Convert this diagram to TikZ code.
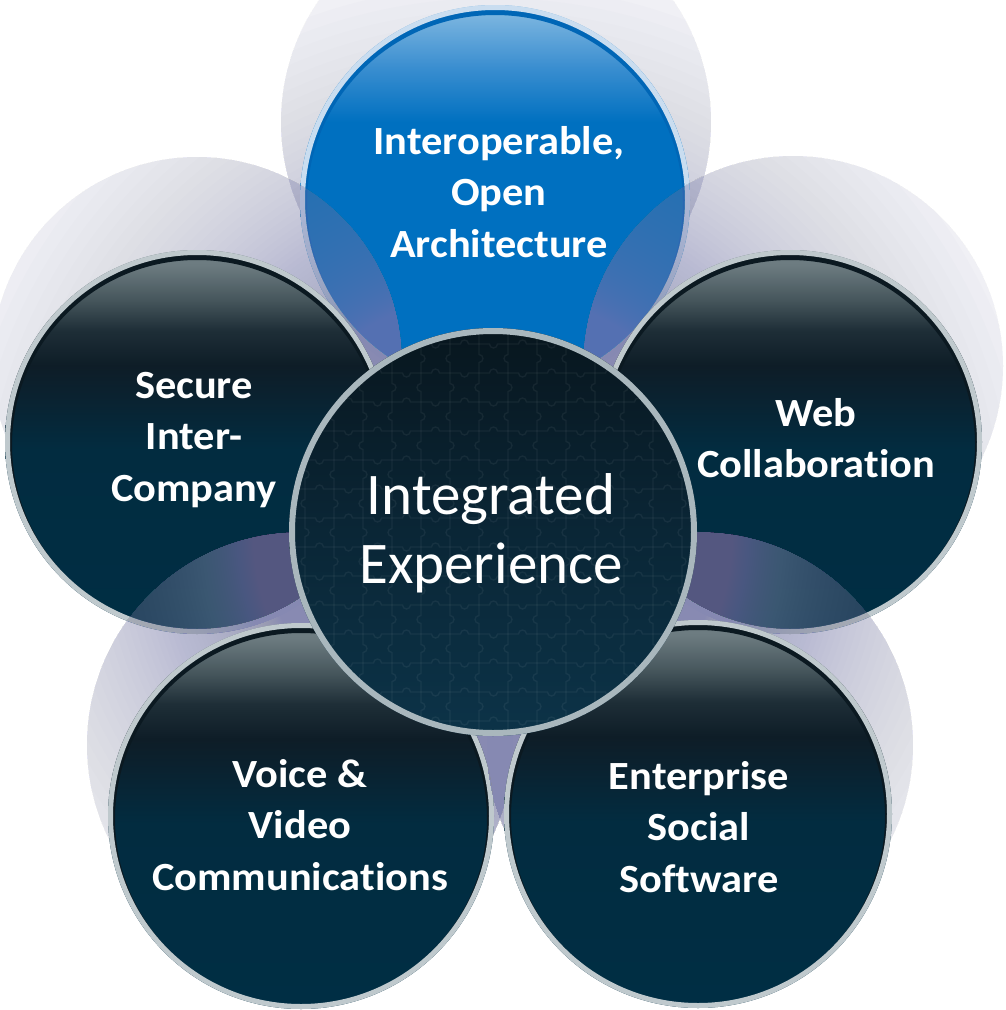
\documentclass[tikz,border=0pt]{standalone}
\usepackage{fontspec}
\setmainfont{Carlito}[Ligatures=NoCommon]
\newfontfamily\labfont{Carlito}[FakeStretch=1.06,Ligatures=NoCommon]
\definecolor{dkA}{HTML}{002E44}
\definecolor{dkB}{HTML}{022C40}
\definecolor{dkC}{HTML}{0A2230}
\definecolor{dkD}{HTML}{0E1D27}
\definecolor{dkE}{HTML}{1E2E37}
\definecolor{dkF}{HTML}{46565C}
\definecolor{dkG}{HTML}{6C7B80}
\definecolor{dkH}{HTML}{707F84}
\definecolor{blA}{HTML}{0070C0}
\definecolor{blB}{HTML}{3A8ED0}
\definecolor{blC}{HTML}{7DB6E0}
\definecolor{ctA}{HTML}{0C3348}
\definecolor{ctB}{HTML}{0A2636}
\definecolor{ctC}{HTML}{08161E}
\definecolor{silverc}{HTML}{BFC9CD}
\definecolor{silverd}{HTML}{A9B7BD}
\definecolor{bluering}{HTML}{C9DDF0}
\definecolor{rimc}{HTML}{0B1921}
\definecolor{bluerim}{HTML}{0066B6}
\definecolor{haloc}{HTML}{8689B2}
\pgfdeclareverticalshading{darkball}{100bp}{color(0bp)=(dkA); color(25bp)=(dkA); color(49bp)=(dkB); color(56bp)=(dkC); color(60bp)=(dkD); color(64.5bp)=(dkE); color(68.5bp)=(dkF); color(73bp)=(dkG); color(75bp)=(dkH); color(100bp)=(dkH)}
\pgfdeclareverticalshading{blueball}{100bp}{color(0bp)=(blA); color(25bp)=(blA); color(60bp)=(blA); color(67bp)=(blB); color(74bp)=(blC); color(75bp)=(blC); color(100bp)=(blC)}
\pgfdeclareverticalshading{centerball}{100bp}{color(0bp)=(ctA); color(25bp)=(ctA); color(50bp)=(ctB); color(75bp)=(ctC); color(100bp)=(ctC)}
\tikzset{
  halolayer/.style={fill=haloc, fill opacity=0.02},
  label/.style={text=white, font=\labfont\bfseries\fontsize{40}{51.5}\selectfont, align=center, inner sep=0pt},
  biglabel/.style={text=white, font=\fontsize{59}{69}\selectfont, align=center, inner sep=0pt},
  puz/.style={draw=white, draw opacity=0.055, line width=1.4pt}
}
\newcommand\Halo[3]{%
  \begin{scope}
    \clip (#1,#2) circle[radius=#3];
    \foreach \k in {0,...,79}{
      \pgfmathsetmacro\rr{210+410*exp(-\k/25.4)}
      \fill[halolayer] (493,532) circle[radius=\rr];
    }
  \end{scope}
}
\newcommand\DarkBall[3]{%
  \shade[shading=darkball] (#1,#2) circle[radius=#3];
  \fill[rimc, even odd rule] (#1,#2) circle[radius=#3-4] (#1,#2+3) circle[radius=#3-7];
  \draw[silverc, line width=5pt] (#1,#2) circle[radius=#3-2.5];
}
\begin{document}
\begin{tikzpicture}[x=1pt, y=-1pt]
\fill[white] (0,0) rectangle (1006,1010);
\useasboundingbox (0,0) rectangle (1006,1010);
% top blue
\Halo{496}{122}{215}
\shade[shading=blueball] (495,200) circle[radius=195];
\fill[bluerim, even odd rule] (495,200) circle[radius=191] (495,203) circle[radius=188];
\draw[bluering, line width=5pt] (495,200) circle[radius=192.5];
% left
\Halo{197}{362}{205}
\DarkBall{197}{442}{192}
% right
\Halo{793}{366}{210}
\DarkBall{790}{442}{192}
% bottom left
\Halo{300}{745}{213}
\DarkBall{301}{816}{193}
% bottom right
\Halo{700}{745}{213}
\DarkBall{698}{814}{194}
% center
\shade[shading=centerball] (493,532) circle[radius=204];
\begin{scope}
\clip (493,532) circle[radius=201];
\foreach \i in {0,...,14}{
  \foreach \j in {0,...,14}{
    \pgfmathtruncatemacro\p{mod(\i+\j,2)}
    \pgfmathsetmacro\xx{276+29*\i}
    \pgfmathsetmacro\yy{315+29*\j}
    \ifnum\p=0
      \draw[puz] (\xx,\yy) -- ++(10.5,0) arc[start angle=180,end angle=0,radius=4] -- ++(10.5,0);
      \draw[puz] (\xx,\yy) -- ++(0,10.5) arc[start angle=-90,end angle=90,radius=4] -- ++(0,10.5);
    \else
      \draw[puz] (\xx,\yy) -- ++(10.5,0) arc[start angle=180,end angle=360,radius=4] -- ++(10.5,0);
      \draw[puz] (\xx,\yy) -- ++(0,10.5) arc[start angle=-90,end angle=-270,radius=4] -- ++(0,10.5);
    \fi
  }
}
\end{scope}
\draw[silverd, line width=6pt] (493,532) circle[radius=201];
% labels
\node[label] (tTop) at (499,192) {Interoperable,\\Open\\Architecture};
\node[label] (tLeft) at (194,440) {Secure\\Inter-\\Company};
\node[label] (tRight) at (816,438) {Web\\Collaboration};
\node[label] (tVoice) at (300,825) {Voice \&\\Video\\Communications};
\node[label] (tEnt) at (699,827) {Enterprise\\Social\\Software};
\node[biglabel] (tCenter) at (491,533) {Integrated\\Experience};
\end{tikzpicture}
\end{document}
